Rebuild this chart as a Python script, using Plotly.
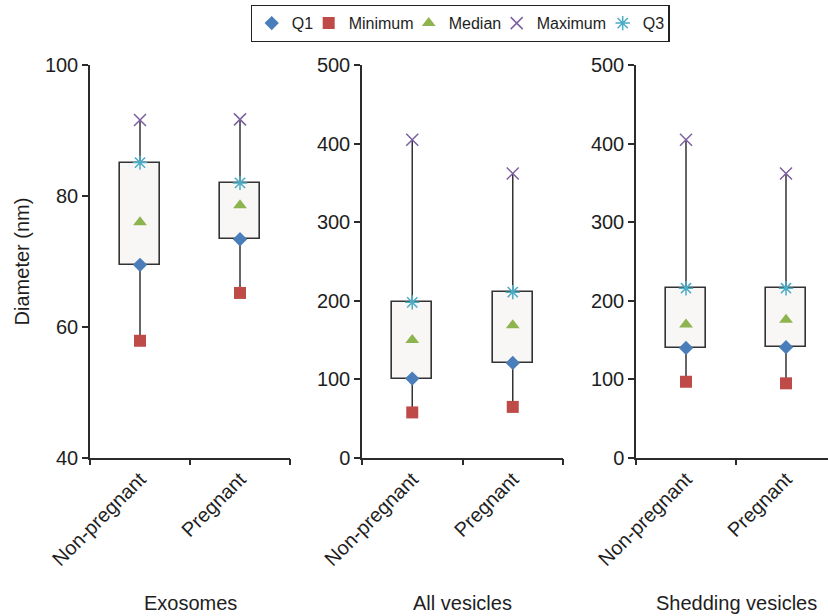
import plotly.graph_objects as go

categories = ["Non-pregnant", "Pregnant"]
panel_titles = ["Exosomes", "All vesicles", "Shedding vesicles"]

exo_min = [57.9, 65.2]
exo_q1 = [69.5, 73.4]
exo_med = [76.0, 78.6]
exo_q3 = [85.1, 82.0]
exo_max = [91.6, 91.7]

all_min = [58, 65]
all_q1 = [101, 121]
all_med = [150, 169]
all_q3 = [198, 211]
all_max = [405, 362]

shed_min = [97, 95]
shed_q1 = [140, 141]
shed_med = [170, 176]
shed_q3 = [216, 216]
shed_max = [405, 362]

panels = [
    dict(mn=exo_min, q1=exo_q1, med=exo_med, q3=exo_q3, mx=exo_max),
    dict(mn=all_min, q1=all_q1, med=all_med, q3=all_q3, mx=all_max),
    dict(mn=shed_min, q1=shed_q1, med=shed_med, q3=shed_q3, mx=shed_max),
]

W, H = 828, 616
TOP, BOT = 65, 458
domains = [[90 / W, 290 / W], [362 / W, 563 / W], [636 / W, 1.0]]
xranges = [[-0.5, 1.5], [-0.5, 1.5], [-0.5, 1.42]]
yranges = [[40, 100], [0, 500], [0, 500]]
ydticks = [20, 100, 100]

FONT = "Liberation Sans, Arial, sans-serif"
AX = "#2b2b2b"
TXT = "#1e1e1e"

stat_styles = [
    ("Q1", "q1", dict(symbol="diamond", size=11, color="#4A7EBB"), 12),
    ("Minimum", "mn", dict(symbol="square", size=12, color="#BE4B48"), 55),
    ("Median", "med", dict(symbol="triangle-up", size=12, color="#8DB44E"), 43),
    ("Maximum", "mx", dict(symbol="x-thin", size=12, color="#7D60A0",
                           line=dict(color="#7D60A0", width=1.5)), 61),
    ("Q3", "q3", dict(symbol="asterisk", size=12, color="#4BACC6",
                      line=dict(color="#4BACC6", width=1.5)), 20),
]

fig = go.Figure()
xs = list(range(len(categories)))
boundaries = [-0.5 + i for i in range(len(categories) + 1)]

for p, d in enumerate(panels):
    xa = "x" if p == 0 else f"x{p+1}"
    ya = "y" if p == 0 else f"y{p+1}"
    wx, wy = [], []
    for i in xs:
        wx += [i, i, None, i, i, None]
        wy += [d["mn"][i], d["q1"][i], None, d["q3"][i], d["mx"][i], None]
    fig.add_trace(go.Scatter(x=wx, y=wy, mode="lines", xaxis=xa, yaxis=ya,
                             line=dict(color="#333333", width=1.5),
                             showlegend=False, hoverinfo="skip"))
    fig.add_trace(go.Bar(x=xs, y=[d["q3"][i] - d["q1"][i] for i in xs],
                         base=d["q1"], width=0.4, xaxis=xa, yaxis=ya,
                         marker=dict(color="#F9F6F6",
                                     line=dict(color="#333333", width=1.6)),
                         showlegend=False, hoverinfo="skip"))
    # invisible trace hosting the category-boundary tick axis
    fig.add_trace(go.Scatter(x=boundaries, y=[None] * len(boundaries),
                             mode="none", xaxis=f"x{p+4}", yaxis=ya,
                             showlegend=False, hoverinfo="skip"))

for name, key, mk, lw in stat_styles:
    for p, d in enumerate(panels):
        xa = "x" if p == 0 else f"x{p+1}"
        ya = "y" if p == 0 else f"y{p+1}"
        fig.add_trace(go.Scatter(x=xs, y=d[key], mode="markers", name=name,
                                 legendgroup=name, showlegend=(p == 0),
                                 legendwidth=lw,
                                 xaxis=xa, yaxis=ya, marker=mk))

layout = dict(
    width=W, height=H,
    margin=dict(l=0, r=0, t=TOP, b=H - BOT),
    paper_bgcolor="white", plot_bgcolor="white",
    font=dict(family=FONT, size=20, color=TXT),
    showlegend=True,
    legend=dict(orientation="h", x=460 / W, xanchor="center",
                yref="container", y=1 - 5 / H, yanchor="top",
                bordercolor="#222222", borderwidth=1.2,
                font=dict(size=16, color=TXT), itemwidth=30,
                tracegroupgap=0, traceorder="normal"),
    bargap=0, barmode="overlay",
)

for p in range(3):
    sfx = "" if p == 0 else str(p + 1)
    layout["xaxis" + sfx] = dict(
        domain=domains[p], range=xranges[p], tickmode="array", tickvals=xs,
        ticktext=categories, tickangle=-45, ticks="", showgrid=False,
        zeroline=False, showline=True, linecolor=AX, linewidth=1.5,
        anchor="y" + sfx, automargin=False, fixedrange=True,
        tickfont=dict(size=20, color=TXT),
    )
    layout[f"xaxis{p+4}"] = dict(
        domain=domains[p], range=xranges[p], overlaying="x" + sfx,
        anchor="y" + sfx, side="bottom", tickmode="array",
        tickvals=boundaries, showticklabels=False, ticks="outside",
        ticklen=6, tickwidth=1.5, tickcolor=AX, showgrid=False,
        zeroline=False, showline=False, automargin=False,
    )
    layout["yaxis" + sfx] = dict(
        domain=[0, 1], range=yranges[p], dtick=ydticks[p], tick0=0,
        ticks="outside", ticklen=6, tickwidth=1.5, tickcolor=AX,
        showgrid=False, zeroline=False, showline=True, linecolor=AX,
        linewidth=1.5, anchor="x" + sfx, automargin=False,
        tickfont=dict(size=20, color=TXT),
    )

layout["yaxis"]["title"] = dict(text="Diameter (nm)", standoff=10,
                                font=dict(size=20, color=TXT))

annotations = []
for p in range(3):
    sfx = "" if p == 0 else str(p + 1)
    annotations.append(dict(text=panel_titles[p], x=0.5,
                            y=(BOT - 603) / (BOT - TOP),
                            xref="x" + sfx, yref="paper", showarrow=False,
                            xanchor="center", yanchor="middle",
                            font=dict(size=20, color=TXT)))
layout["annotations"] = annotations

fig.update_layout(**layout)
fig.write_html("out.html",
               config={"displayModeBar": False},
               post_script="document.body.style.margin='0';"
                           "document.body.style.overflow='hidden';")
